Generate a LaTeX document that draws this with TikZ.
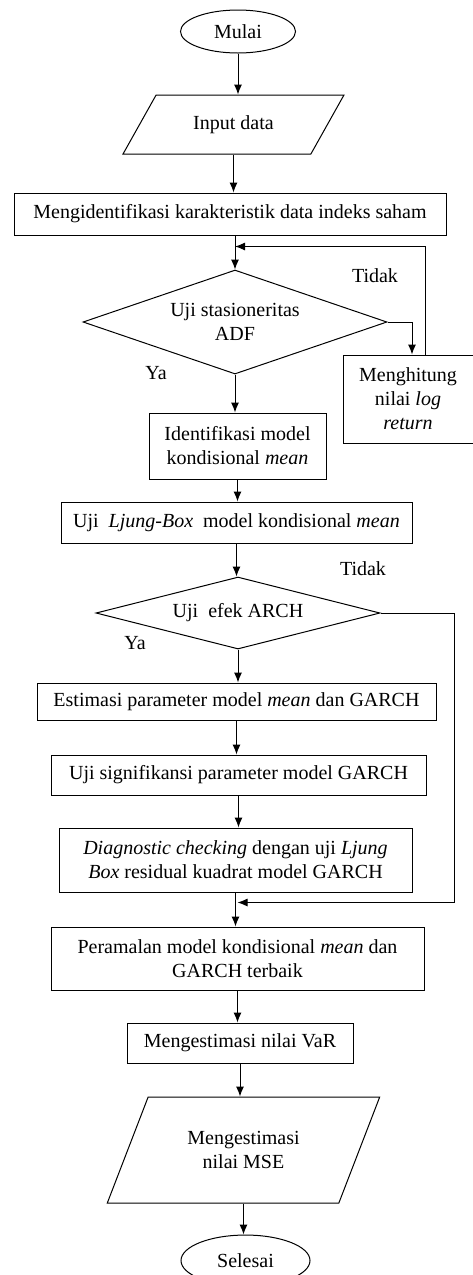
\documentclass[tikz,border=0pt]{standalone}
\usepackage{fontspec}
\setmainfont{Liberation Serif}
\usetikzlibrary{positioning,shapes.geometric,arrows.meta}

\begin{document}
\begin{tikzpicture}[x=1pt, y=1pt, line width=1pt,
        font=\fontsize{20}{24}\selectfont,
        proc/.style={rectangle, draw, inner sep=2pt, align=center},
        term/.style={ellipse, draw, inner sep=0pt},
        io/.style={trapezium, draw, trapezium stretches=true, inner sep=0pt, align=center},
        decision/.style={diamond, draw, inner sep=0pt, align=center},
        arr/.style={-{Latex[length=10pt,width=8pt]}}]
        \useasboundingbox (0,0) rectangle (473,-1275);
        % Main column
        \node[term, minimum width=115pt, minimum height=43pt] (mulai) at (238,-31.5) {Mulai};
        \node[io, trapezium left angle=46.5, trapezium right angle=133.5, minimum width=221pt, minimum height=59pt, below=41pt of mulai, xshift=-4.5pt] (input) {Input data};
        \node[proc, minimum width=432pt, minimum height=42pt, below=38pt of input, xshift=-3.5pt] (karakter) {Mengidentifikasi karakteristik data indeks saham};
        \node[decision, aspect=2.92, minimum width=304pt, minimum height=104pt, below=34pt of karakter, xshift=5pt] (adf) {Uji stasioneritas\\ADF};
        \node[proc, minimum width=177pt, minimum height=66pt, below=38pt of adf, xshift=2.5pt] (identmean) {Identifikasi model\\kondisional \textit{mean}};
        \node[proc, minimum width=351pt, minimum height=41pt, below=22pt of identmean, xshift=-1pt] (ljungmean) {Uji\ \ \textit{Ljung-Box}\ \ model kondisional \textit{mean}};
        \node[decision, aspect=3.94, minimum width=284pt, minimum height=72pt, below=33pt of ljungmean, xshift=1.5pt] (arch) {Uji\ \ efek ARCH};
        \node[proc, minimum width=399pt, minimum height=37pt, below=33pt of arch, xshift=-1.5pt] (estimasi) {Estimasi parameter model \textit{mean} dan GARCH};
        \node[proc, minimum width=375pt, minimum height=40pt, below=34pt of estimasi, xshift=2pt] (signif) {Uji signifikansi parameter model GARCH};
        \node[proc, minimum width=353pt, minimum height=64pt, below=32pt of signif, xshift=-3pt] (diag) {\textit{Diagnostic checking} dengan uji \textit{Ljung}\\\textit{Box} residual kuadrat model GARCH};
        \node[proc, minimum width=373pt, minimum height=63pt, below=34pt of diag, xshift=2pt] (ramal) {Peramalan model kondisional \textit{mean} dan\\GARCH terbaik};
        \node[proc, minimum width=226pt, minimum height=40pt, below=32pt of ramal, xshift=2.5pt] (var) {Mengestimasi nilai VaR};
        \node[io, trapezium left angle=57.3, trapezium right angle=122.7, minimum width=273pt, minimum height=106pt, below=33pt of var, xshift=3.5pt] (mse) {Mengestimasi\\nilai MSE};
        \node[term, minimum width=129pt, minimum height=51pt, below=31pt of mse, xshift=2pt] (selesai) {Selesai};
        % Side box
        \node[proc, minimum width=130pt, minimum height=88pt] (logret) at (408,-399) {Menghitung\\nilai \textit{log}\\\textit{return}};
        % Labels
        \node (tidak1) at (375,-276) {Tidak};
        \node (ya1) at (156,-373) {Ya};
        \node (tidak2) at (363,-569) {Tidak};
        \node (ya2) at (135,-643) {Ya};
        % Junctions
        \coordinate[above=23pt of adf.north] (j1);
        \coordinate[above=24pt of ramal.north] (j2);
        % Edges
        \draw[arr] (mulai.south) -- (mulai.south |- input.north);
        \draw[arr] (input.south) -- (input.south |- karakter.north);
        \draw[arr] (adf.north |- karakter.south) -- (adf.north);
        \draw[arr] (adf.south) -- (adf.south |- identmean.north);
        \draw[arr] (identmean.south) -- (identmean.south |- ljungmean.north);
        \draw[arr] (ljungmean.south) -- (ljungmean.south |- arch.north);
        \draw[arr] (arch.south) -- (arch.south |- estimasi.north);
        \draw[arr] (estimasi.south) -- (estimasi.south |- signif.north);
        \draw[arr] (signif.south) -- (signif.south |- diag.north);
        \draw[arr] (diag.south) -- (diag.south |- ramal.north);
        \draw[arr] (ramal.south) -- (ramal.south |- var.north);
        \draw[arr] (var.south) -- (var.south |- mse.north);
        \draw[arr] (mse.south) -- (mse.south |- selesai.north);
        % Loops
        \draw[arr] (adf.east) -| ([xshift=4pt]logret.north);
        \draw[arr] ([xshift=17pt]logret.north) |- (j1);
        \draw[arr] (arch.east) -- ++(74,0) |- (j2);
\end{tikzpicture}
\end{document}
